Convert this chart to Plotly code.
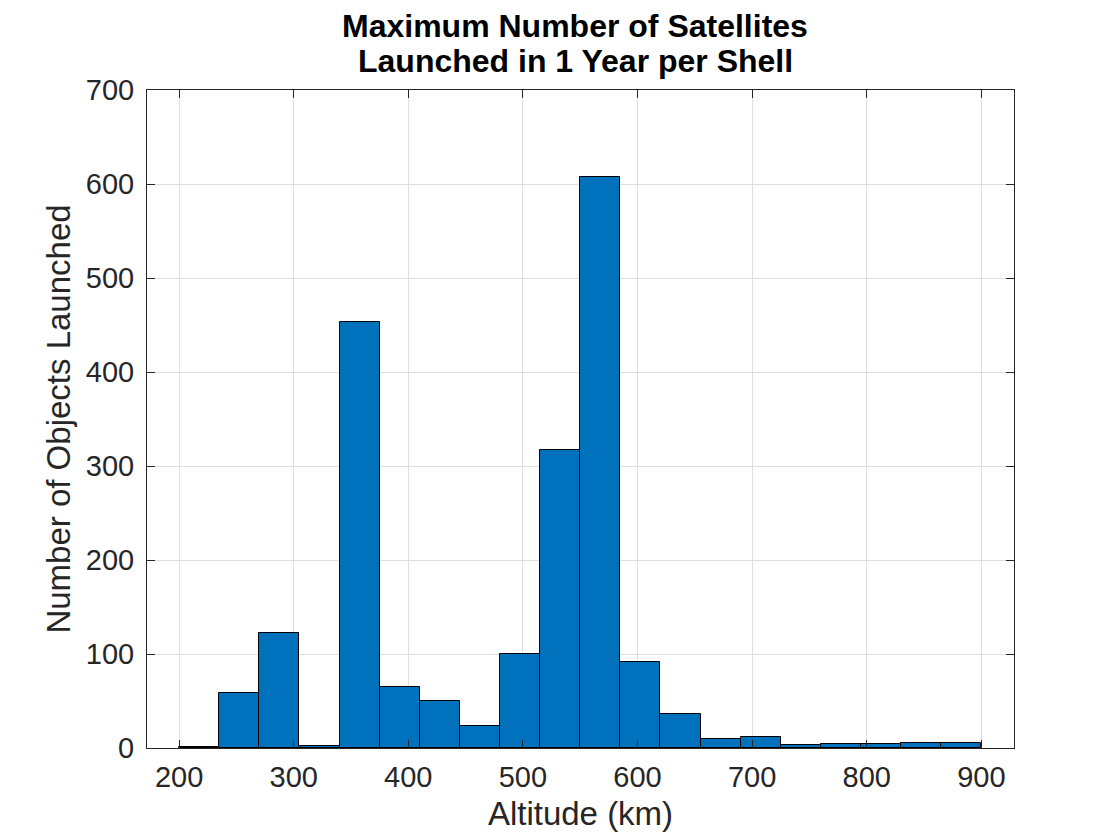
import plotly.graph_objects as go

# Histogram bins (km) and counts per shell
bin_left = [200, 235, 270, 305, 340, 375, 410, 445, 480, 515,
            550, 585, 620, 655, 690, 725, 760, 795, 830, 865]
bin_width = 35
counts = [1, 58, 122, 2, 453, 65, 50, 23, 100, 317,
          607, 92, 36, 10, 12, 3, 4, 4, 5, 5]

x_ticks = [200, 300, 400, 500, 600, 700, 800, 900]
y_ticks = [0, 100, 200, 300, 400, 500, 600, 700]

title_lines = ["Maximum Number of Satellites", "Launched in 1 Year per Shell"]

centers = [b + bin_width / 2 for b in bin_left]

axis_color = "#262626"
font_family = "Liberation Sans, Arial, Helvetica, sans-serif"

fig = go.Figure(
    go.Bar(
        x=centers,
        y=counts,
        width=bin_width,
        marker=dict(color="#0072BD", line=dict(color="black", width=1)),
        showlegend=False,
    )
)

axis_common = dict(
    showline=True,
    linecolor=axis_color,
    linewidth=1,
    mirror="ticks",
    ticks="inside",
    ticklen=8,
    tickcolor=axis_color,
    tickwidth=1,
    showgrid=True,
    gridcolor="#dfdfdf",
    gridwidth=1,
    zeroline=False,
    automargin=False,
    tickfont=dict(size=29, color=axis_color, family=font_family),
)

fig.update_xaxes(
    range=[172, 928.5],
    tickvals=x_ticks,
    ticklabelstandoff=3,
    title=dict(text="Altitude (km)", font=dict(size=33, color=axis_color, family=font_family), standoff=13),
    **axis_common,
)
fig.update_yaxes(
    range=[0, 700],
    tickvals=y_ticks,
    ticklabelstandoff=6,
    title=dict(text="Number of Objects Launched", font=dict(size=33, color=axis_color, family=font_family), standoff=5),
    **axis_common,
)

# two-line bold title, placed line by line
for line, ypos in zip(title_lines, [1.0977, 1.0445]):
    fig.add_annotation(
        text="<b>" + line + "</b>",
        xref="paper", yref="paper",
        x=0.4937, y=ypos,
        xanchor="center", yanchor="middle",
        showarrow=False,
        font=dict(size=32, color="black", family=font_family),
    )

fig.update_layout(
    width=1104,
    height=824,
    margin=dict(l=138.5, r=97.5, t=82.3, b=83.7),
    paper_bgcolor="white",
    plot_bgcolor="white",
    bargap=0,
)

fig.write_html("out.html")
